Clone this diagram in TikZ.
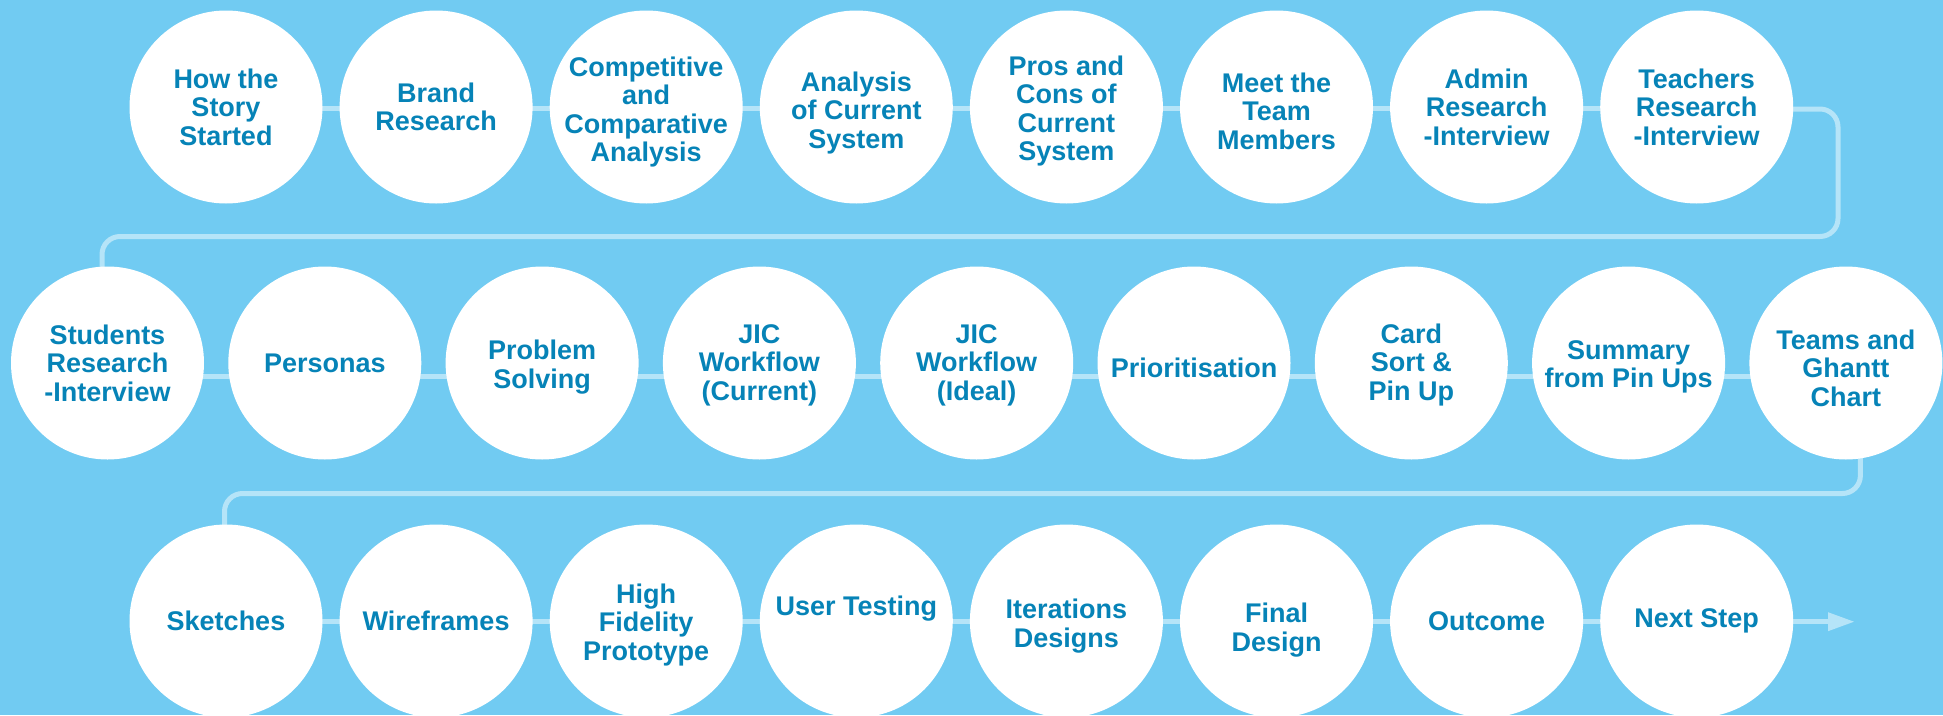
\documentclass[tikz,border=0pt]{standalone}
\usepackage{fontspec}
\setmainfont{Liberation Sans}
\usetikzlibrary{arrows.meta,backgrounds}
\definecolor{bgblue}{HTML}{71CBF2}
\definecolor{linkblue}{HTML}{B5E4F8}
\definecolor{txtblue}{HTML}{0683B7}
\begin{document}
\begin{tikzpicture}[x=1pt,y=-1pt,
  stage/.style={circle,fill=white,minimum size=193pt,inner sep=0pt},
  txt/.style={align=center,inner sep=0pt,text=txtblue,font=\fontsize{27}{28.5}\selectfont\bfseries},
  link/.style={draw=linkblue,line width=5pt},
  turnlink/.style={link,rounded corners=18pt}]
\useasboundingbox (0,0) rectangle (1943,715);
% row 1
\node[stage,label={[txt]center:{How the\\Story\\Started}}] (a1) at (226,107) {};
\node[stage,label={[txt]center:{Brand\\Research}}] (a2) at (436.1,107) {};
\node[stage,label={[txt,yshift=-5pt]center:{Competitive\\and\\Comparative\\Analysis}}] (a3) at (646.2,107) {};
\node[stage,label={[txt,yshift=-6pt]center:{Analysis\\of Current\\System}}] (a4) at (856.3,107) {};
\node[stage,label={[txt,yshift=-4pt]center:{Pros and\\Cons of\\Current\\System}}] (a5) at (1066.4,107) {};
\node[stage,label={[txt,yshift=-4pt]center:{Meet the\\Team\\Members}}] (a6) at (1276.5,107) {};
\node[stage,label={[txt]center:{Admin\\Research\\-Interview}}] (a7) at (1486.6,107) {};
\node[stage,label={[txt]center:{Teachers\\Research\\-Interview}}] (a8) at (1696.7,107) {};
% row 2
\node[stage,label={[txt]center:{Students\\Research\\-Interview}}] (b1) at (107.5,363) {};
\node[stage,label={[txt]center:{Personas}}] (b2) at (324.8,363) {};
\node[stage,label={[txt,yshift=-4pt]center:{Problem\\Solving}}] (b3) at (542.1,363) {};
\node[stage,label={[txt,yshift=-2pt]center:{JIC\\Workflow\\(Current)}}] (b4) at (759.4,363) {};
\node[stage,label={[txt,yshift=-2pt]center:{JIC\\Workflow\\(Ideal)}}] (b5) at (976.7,363) {};
\node[stage,label={[txt,yshift=-5pt]center:{Prioritisation}}] (b6) at (1194,363) {};
\node[stage,label={[txt,yshift=-2pt]center:{Card\\Sort \&\\Pin Up}}] (b7) at (1411.3,363) {};
\node[stage,label={[txt,yshift=-4pt]center:{Summary\\from Pin Ups}}] (b8) at (1628.6,363) {};
\node[stage,label={[txt,yshift=-5pt]center:{Teams and\\Ghantt\\Chart}}] (b9) at (1845.9,363) {};
% row 3
\node[stage,label={[txt]center:{Sketches}}] (c1) at (226,621) {};
\node[stage,label={[txt]center:{Wireframes}}] (c2) at (436.1,621) {};
\node[stage,label={[txt,yshift=-4pt]center:{High\\Fidelity\\Prototype}}] (c3) at (646.2,621) {};
\node[stage,label={[txt,yshift=12pt]center:{User Testing}}] (c4) at (856.3,621) {};
\node[stage,label={[txt,yshift=-5pt]center:{Iterations\\Designs}}] (c5) at (1066.4,621) {};
\node[stage,label={[txt,yshift=-9pt]center:{Final\\Design}}] (c6) at (1276.5,621) {};
\node[stage,label={[txt]center:{Outcome}}] (c7) at (1486.6,621) {};
\node[stage,label={[txt]center:{Next Step}}] (c8) at (1696.7,621) {};
\coordinate (turn1) at (1838,236.5);
\coordinate (turn2) at (224.5,493.5);
\coordinate (tip) at (1854,621.7);
\begin{pgfonlayer}{background}
\fill[bgblue] (0,0) rectangle (1943,715);
\foreach \i/\j in {1/2,2/3,3/4,4/5,5/6,6/7,7/8}{
  \draw[link] ([yshift=-1.5pt]a\i.center) -- ([yshift=-1.5pt]a\j.center);
  \draw[link] ([yshift=-0.7pt]c\i.center) -- ([yshift=-0.7pt]c\j.center);
}
\foreach \i/\j in {1/2,2/3,3/4,4/5,5/6,6/7,7/8,8/9}{
  \draw[link] ([yshift=-13pt]b\i.center) -- ([yshift=-13pt]b\j.center);
}
\draw[turnlink] ([yshift=-2pt]a8.center) -| (turn1) -| ([xshift=-5.5pt]b1.center);
\draw[turnlink] ([xshift=14.5pt]b9.center) |- (turn2) -- ([xshift=-1.5pt]c1.center);
\draw[link,-{Triangle[length=26pt,width=19pt,line width=0pt]}] ([yshift=-0.7pt]c8.center) -- (tip);
\end{pgfonlayer}
\end{tikzpicture}
\end{document}
